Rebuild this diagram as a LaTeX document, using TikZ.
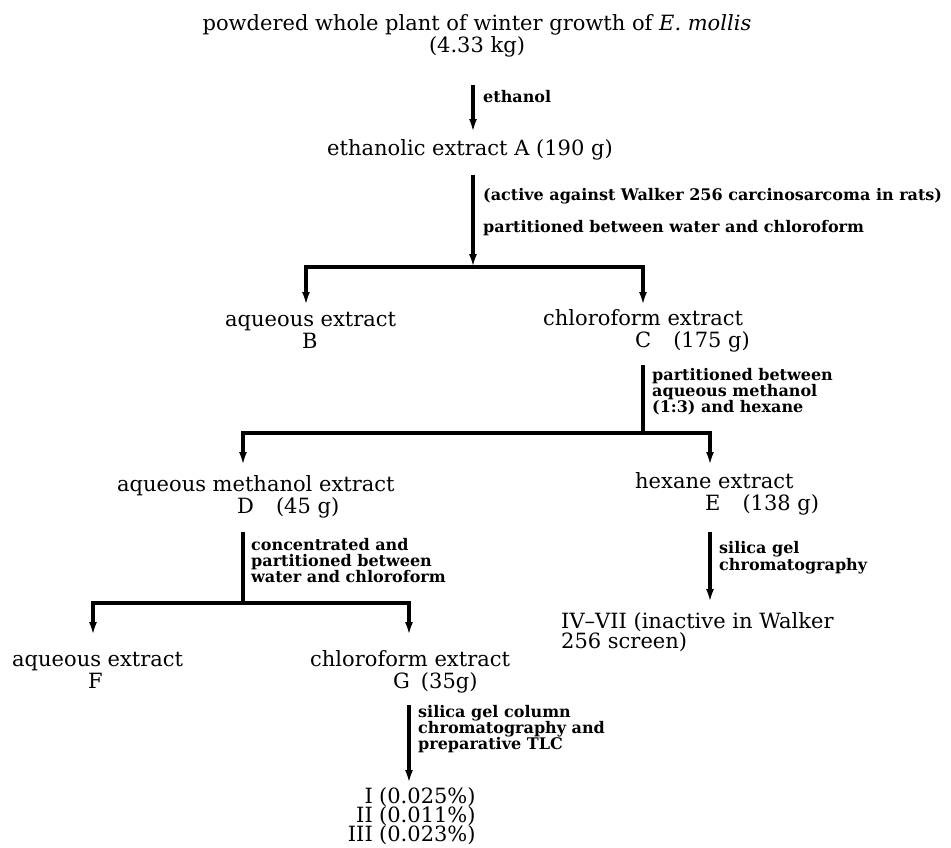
\documentclass[tikz,border=0pt]{standalone}
\usepackage{fontspec}
\setmainfont{DejaVu Serif}
\usetikzlibrary{arrows.meta}
\begin{document}
\begin{tikzpicture}[x=1pt,y=-1pt,
  main/.style={inner sep=0pt, align=left, font=\fontsize{21}{21.5}\selectfont},
  lab/.style={anchor=base west, inner sep=0pt, align=left, font=\fontsize{16}{16}\selectfont\bfseries},
  ln/.style={line width=3.2pt},
  arr/.style={line width=3.2pt, -{Latex[length=13pt,width=8pt]}},
]
\fill[white] (0,0) rectangle (951,847);
\useasboundingbox (0,0) rectangle (951,847);

% ---------- text nodes (anchored at the baseline of their last line) ----------
\node[main, anchor=base, align=center] (title) at (477,52) {powdered whole plant of winter growth of \textit{E. mollis}\\(4.33 kg)};
\node[main, anchor=base, align=center] (A) at (470,155) {ethanolic extract A (190 g)};
\node[main, anchor=base west] (B) at (225,348) {aqueous extract\\\hspace*{77pt}B};
\node[main, anchor=base west] (C) at (543,347) {chloroform extract\\\hspace*{92pt}C\hspace{22pt}(175 g)};
\node[main, anchor=base west] (D) at (117,513) {aqueous methanol extract\\\hspace*{120pt}D\hspace{22pt}(45 g)};
\node[main, anchor=base west] (E) at (635,510) {hexane extract\\\hspace*{70pt}E\hspace{22pt}(138 g)};
\node[main, anchor=base west, font=\fontsize{21}{20}\selectfont] (R2) at (561,648) {IV–VII (inactive in Walker\\256 screen)};
\node[main, anchor=base west] (F) at (12,688) {aqueous extract\\\hspace*{76pt}F};
\node[main, anchor=base west] (G) at (310,688) {chloroform extract\\\hspace*{83pt}G\hspace{11pt}(35g)};
\node[main, anchor=base east] (r1n) at (373,803) {I};
\node[main, anchor=base west] (r1v) at (379,803) {(0.025\%)};
\node[main, anchor=base east] (r2n) at (373,822) {II};
\node[main, anchor=base west] (r2v) at (379,822) {(0.011\%)};
\node[main, anchor=base east] (r3n) at (373,841) {III};
\node[main, anchor=base west] (r3v) at (379,841) {(0.023\%)};

% ---------- labels ----------
\node[lab] (l1) at (483,102) {ethanol};
\node[lab] (l2) at (483,200) {(active against Walker 256 carcinosarcoma in rats)};
\node[lab] (l3) at (483,232) {partitioned between water and chloroform};
\node[lab] (l4) at (652,412) {partitioned between\\aqueous methanol\\(1:3) and hexane};
\node[lab] (l5) at (251,582) {concentrated and\\partitioned between\\water and chloroform};
\node[lab, font=\fontsize{16}{15}\selectfont\bfseries] (l6) at (719,570) {silica gel\\chromatography};
\node[lab] (l7) at (418,749) {silica gel column\\chromatography and\\preparative TLC};

% ---------- coordinates ----------
\coordinate (a1s) at (473,85);
\coordinate (a1e) at (473,132);
\coordinate (a2s) at (473,175);
\coordinate (j1) at (473,267);
\coordinate (tB) at (306,305);
\coordinate (tC) at (643,305);
\coordinate (a3s) at (643,365);
\coordinate (j2) at (643,433);
\coordinate (tD) at (243,465);
\coordinate (tE) at (710,465);
\coordinate (a4s) at (243,532);
\coordinate (j3) at (243,603);
\coordinate (tF) at (93,635);
\coordinate (tG) at (409,635);
\coordinate (a5s) at (710,532);
\coordinate (a5e) at (710,602);
\coordinate (a6s) at (409,705);
\coordinate (a6e) at (409,783);

% ---------- connectors ----------
\draw[arr] (a1s) -- (a1e);
\draw[arr] (a2s) -- (j1);
\draw[arr] (j1) -| (tB);
\draw[arr] (j1) -| (tC);
\draw[ln] (a3s) -- (j2);
\draw[arr] (j2) -| (tD);
\draw[arr] (j2) -| (tE);
\draw[ln] (a4s) -- (j3);
\draw[arr] (j3) -| (tF);
\draw[arr] (j3) -| (tG);
\draw[arr] (a5s) -- (a5e);
\draw[arr] (a6s) -- (a6e);
\end{tikzpicture}
\end{document}
